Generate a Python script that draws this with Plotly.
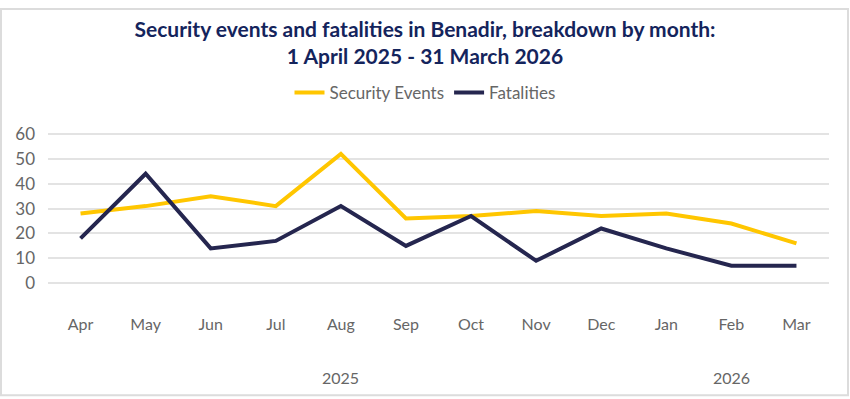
import plotly.graph_objects as go

months = ["Apr", "May", "Jun", "Jul", "Aug", "Sep", "Oct", "Nov", "Dec", "Jan", "Feb", "Mar"]
security_events = [28, 31, 35, 31, 52, 26, 27, 29, 27, 28, 24, 16]
fatalities = [18, 44, 14, 17, 31, 15, 27, 9, 22, 14, 7, 7]
year_labels = ["2025", "2026"]
year_positions = ["Aug", "Feb"]
y_ticks = [0, 10, 20, 30, 40, 50, 60]

W, H = 850, 399
ML, MR, MT, MB = 48, 21, 128, 86
PW, PH = W - ML - MR, H - MT - MB

FONT = "Lato"
YELLOW = "#FFC600"
NAVY = "#25264F"
GRAY = "#666666"

fig = go.Figure()
fig.add_trace(go.Scatter(x=months, y=security_events, mode="lines", name="Security Events",
                         line=dict(color=YELLOW, width=4)))
fig.add_trace(go.Scatter(x=months, y=fatalities, mode="lines", name="Fatalities",
                         line=dict(color=NAVY, width=4)))

def px_x(p):
    return (p - ML) / PW

def px_y(p):
    return (H - MB - p) / PH

shapes = [dict(type="rect", xref="paper", yref="paper",
               x0=px_x(1), x1=px_x(848), y0=px_y(397.5), y1=px_y(1),
               line=dict(color="#dcdcdc", width=2), fillcolor="rgba(0,0,0,0)", layer="below")]

annotations = []
for lab, pos in zip(year_labels, year_positions):
    annotations.append(dict(x=pos, xref="x", y=px_y(379), yref="paper", text=lab,
                            showarrow=False, yanchor="middle", xanchor="center",
                            font=dict(family=FONT, size=16, color=GRAY)))

fig.update_layout(
    width=W, height=H,
    margin=dict(l=ML, r=MR, t=MT, b=MB),
    paper_bgcolor="white", plot_bgcolor="white",
    title=dict(text="Security events and fatalities in Benadir, breakdown by month:<br>1 April 2025 - 31 March 2026",
               x=0.5, xanchor="center", xref="container", y=1 - 37 / H, yanchor="middle", yref="container",
               font=dict(family=FONT, size=21, color="#14245c", weight="bold")),
    legend=dict(orientation="h", x=0.5, xanchor="center", xref="container",
                y=1 - 93 / H, yanchor="middle", yref="container",
                font=dict(family=FONT, size=17, color=GRAY)),
    xaxis=dict(type="category", range=[-0.5, 11.5], showgrid=False, zeroline=False, showline=False,
               ticks="", tickfont=dict(family=FONT, size=16, color=GRAY), fixedrange=True),
    yaxis=dict(range=[-12, 60.5], tickvals=y_ticks, showgrid=True, gridcolor="#e3e3e3", gridwidth=2,
               zeroline=False, showline=False, ticks="", ticklabelstandoff=12,
               tickfont=dict(family=FONT, size=17, color=GRAY)),
    shapes=shapes,
    annotations=annotations,
    showlegend=True,
)

fig.write_html("out.html")
